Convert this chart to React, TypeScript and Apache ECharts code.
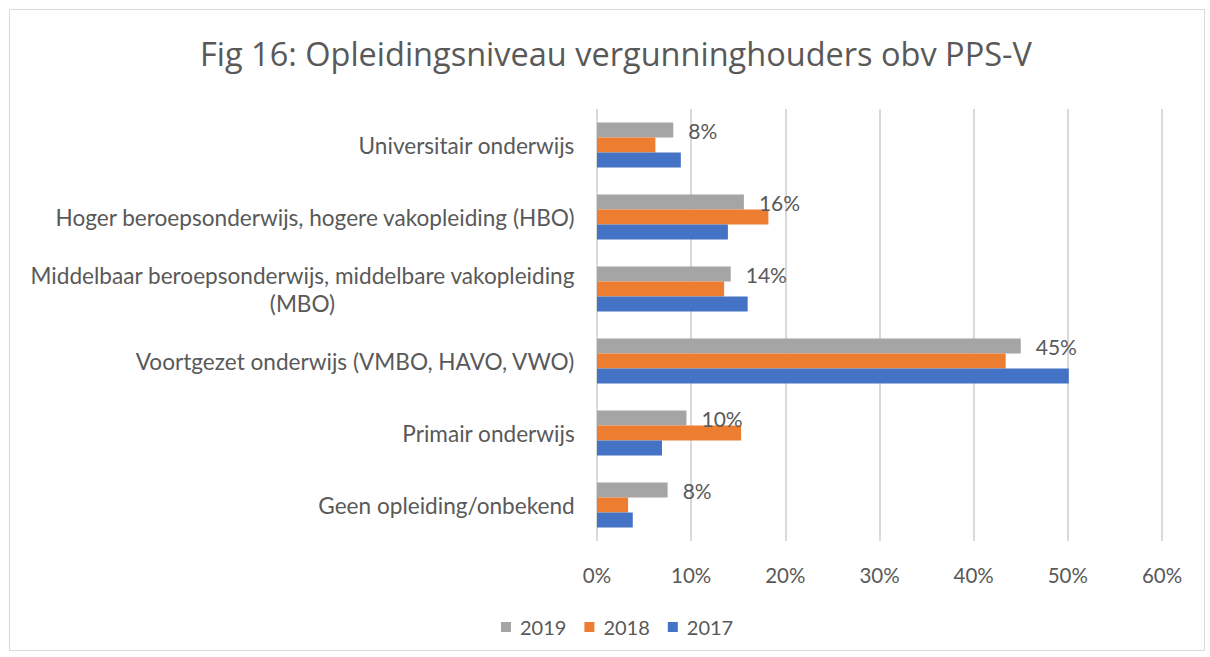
import React, { useEffect, useRef } from "react";
import * as echarts from "echarts";

const TITLE = "Fig 16: Opleidingsniveau vergunninghouders obv PPS-V";
const categories = [
  "Universitair onderwijs",
  "Hoger beroepsonderwijs, hogere vakopleiding (HBO)",
  "Middelbaar beroepsonderwijs, middelbare vakopleiding (MBO)",
  "Voortgezet onderwijs (VMBO, HAVO, VWO)",
  "Primair onderwijs",
  "Geen opleiding/onbekend",
];
const seriesNames = ["2019", "2018", "2017"];
const values2019 = [8.1, 15.6, 14.2, 45.0, 9.5, 7.5];
const values2018 = [6.2, 18.2, 13.5, 43.4, 15.3, 3.3];
const values2017 = [8.9, 13.9, 16.0, 50.1, 6.9, 3.8];
const xTicks = { min: 0, max: 60, interval: 10 };

const TEXT = "#595959";
const FONT = "Lato";
const CAT_FS = 22.6;
const MAX_LABEL_W = 570;

function wrapText(text: string, fs: number, maxW: number) {
  const c = document.createElement("canvas").getContext("2d")!;
  c.font = `${fs}px ${FONT}`;
  const words = text.split(" ");
  const lines: string[] = [];
  let cur = "";
  for (const w of words) {
    const t = cur ? cur + " " + w : w;
    if (c.measureText(t).width > maxW && cur) {
      lines.push(cur);
      cur = w;
    } else cur = t;
  }
  if (cur) lines.push(cur);
  const width = Math.max(...lines.map((l) => c.measureText(l).width));
  return { lines, width: Math.ceil(width) };
}

export default function App() {
  const ref = useRef<HTMLDivElement>(null);
  useEffect(() => {
    const chart = echarts.init(ref.current!, null, { renderer: "svg" });
    const rich: any = {};
    const wrapped = categories.map((c, i) => {
      const w = wrapText(c, CAT_FS, MAX_LABEL_W);
      rich["c" + i] = {
        width: w.width,
        align: "center",
        fontSize: CAT_FS,
        lineHeight: 28,
        color: TEXT,
        fontFamily: FONT,
      };
      return w;
    });
    const colors = ["#A5A5A5", "#ED7D31", "#4472C4"];
    const data = [values2019, values2018, values2017];
    chart.setOption({
      animation: false,
      textStyle: { fontFamily: FONT },
      title: {
        text: TITLE,
        left: 195,
        top: 32,
        textStyle: { fontSize: 32.5, fontWeight: "normal", color: TEXT, fontFamily: "Open Sans" },
      },
      graphic: [
        {
          type: "rect",
          shape: { x: 9.5, y: 9.5, width: 1195, height: 641 },
          style: { fill: "none", stroke: "#D9D9D9", lineWidth: 1 },
          silent: true,
        },
      ],
      legend: {
        data: seriesNames,
        left: 496,
        top: 612,
        icon: "rect",
        itemWidth: 10,
        itemHeight: 10,
        itemGap: 18,
        textStyle: { fontSize: 20, color: TEXT, fontFamily: FONT, padding: [0, 0, 0, 4] },
      },
      grid: { left: 597, right: 48, top: 109, bottom: 116, containLabel: false },
      xAxis: {
        type: "value",
        min: xTicks.min,
        max: xTicks.max,
        interval: xTicks.interval,
        axisLabel: { formatter: "{value}%", fontSize: 20.5, color: TEXT, margin: 23, fontFamily: FONT },
        splitLine: { lineStyle: { color: "#D9D9D9", width: 2 } },
        axisLine: { show: false },
        axisTick: { show: false },
      },
      yAxis: {
        type: "category",
        data: categories,
        inverse: true,
        axisLine: { show: false },
        axisTick: { show: false },
        axisLabel: {
          margin: 22,
          formatter: (v: string, i: number) =>
            wrapped[i].lines.map((l) => `{c${i}|${l}}`).join("\n"),
          rich,
        },
      },
      series: seriesNames.map((name, si) => ({
        name,
        type: "bar",
        data: data[si],
        barWidth: 15,
        barGap: "0%",
        itemStyle: { color: colors[si] },
        label:
          si === 0
            ? {
                show: true,
                position: "right",
                distance: 15,
                formatter: (p: any) => Math.round(p.value) + "%",
                fontSize: 21,
                color: TEXT,
                fontFamily: FONT,
              }
            : { show: false },
      })),
    });
    return () => chart.dispose();
  }, []);
  return (
    <div
      ref={ref}
      style={{ position: "fixed", left: 0, top: 0, width: 1210, height: 657, background: "#fff" }}
    />
  );
}
